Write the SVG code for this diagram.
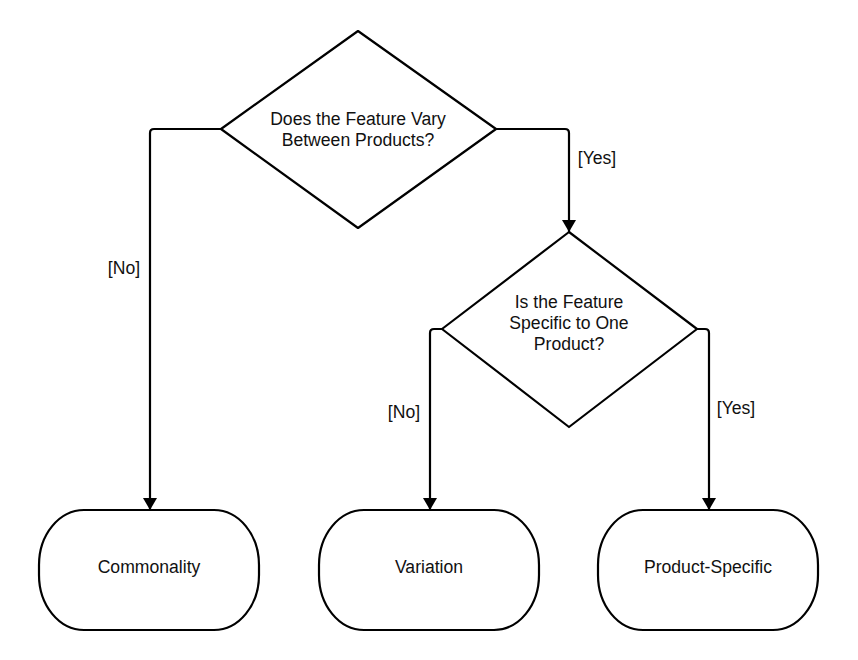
<svg xmlns="http://www.w3.org/2000/svg" width="858" height="660" viewBox="0 0 858 660">
<style>
.shape{fill:#fff;stroke:#000;stroke-width:2.2;stroke-linejoin:round}
.conn{fill:none;stroke:#000;stroke-width:2.2;stroke-linejoin:round}
text{font-family:"Liberation Sans",Arial,sans-serif;font-size:17.6px;fill:#111;text-anchor:middle;dominant-baseline:central}
</style>
<defs>
<marker id="arr" viewBox="0 0 12 14" refX="12" refY="7" markerWidth="12" markerHeight="14" markerUnits="userSpaceOnUse" orient="auto">
<path d="M0,0 L12,7 L0,14 Z" fill="#000"/>
</marker>
</defs>
<rect width="858" height="660" fill="#fff"/>
<g id="connectors">
<path class="conn" d="M221,129 H154 Q150,129 150,133 V510" marker-end="url(#arr)"/>
<path class="conn" d="M496,129 H565 Q569,129 569,133 V232" marker-end="url(#arr)"/>
<path class="conn" d="M442,329 H434 Q430,329 430,333 V510" marker-end="url(#arr)"/>
<path class="conn" d="M697,329 H705 Q709,329 709,333 V510" marker-end="url(#arr)"/>
<text x="124" y="268">[No]</text>
<text x="597" y="158">[Yes]</text>
<text x="404" y="412">[No]</text>
<text x="736" y="408">[Yes]</text>
</g>
<g id="decision1">
<path class="shape" d="M358,31 L496,129 L358,228 L221,129 Z"/>
<text x="358" y="119">Does the Feature Vary</text>
<text x="358" y="140">Between Products?</text>
</g>
<g id="decision2">
<path class="shape" d="M569,232 L697,329 L569,427 L442,329 Z"/>
<text x="569" y="302">Is the Feature</text>
<text x="569" y="323">Specific to One</text>
<text x="569" y="344">Product?</text>
</g>
<g id="commonality">
<rect class="shape" x="39" y="510" width="220" height="120" rx="45" ry="55"/>
<text x="149" y="567">Commonality</text>
</g>
<g id="variation">
<rect class="shape" x="319" y="510" width="220" height="120" rx="45" ry="55"/>
<text x="429" y="567">Variation</text>
</g>
<g id="product-specific">
<rect class="shape" x="598" y="510" width="220" height="120" rx="45" ry="55"/>
<text x="708" y="567">Product-Specific</text>
</g>
</svg>
